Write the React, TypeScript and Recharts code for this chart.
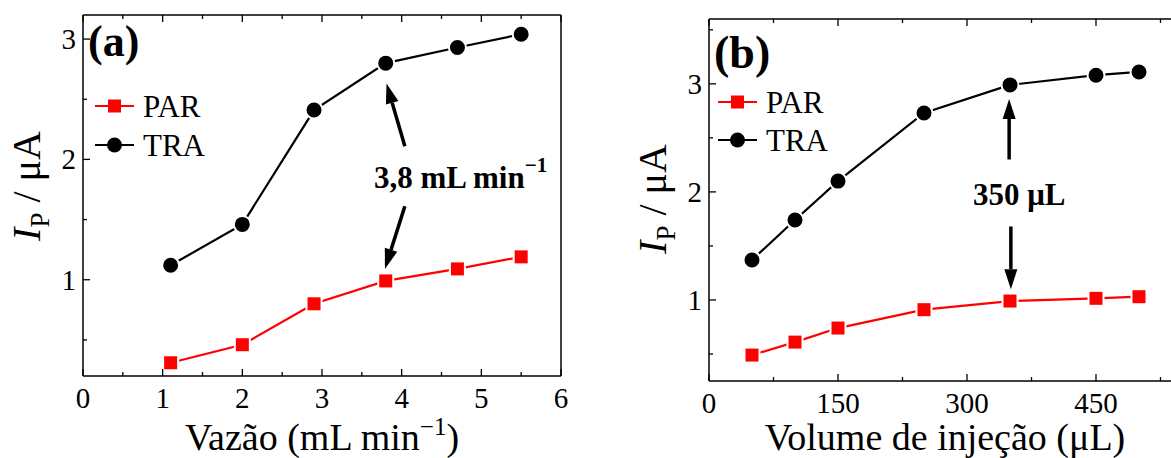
import React from "react";
import { LineChart, Line, XAxis, YAxis, ReferenceLine, Legend } from "recharts";

// (a) flow rate study
const flowRates = [1.1, 2.0, 2.9, 3.8, 4.7, 5.5];
const flowPar = [0.31, 0.46, 0.8, 0.99, 1.09, 1.19];
const flowTra = [1.12, 1.46, 2.41, 2.8, 2.93, 3.04];

// (b) injection volume study
const volumes = [50, 100, 150, 250, 350, 450, 500];
const volPar = [0.49, 0.61, 0.74, 0.91, 0.99, 1.015, 1.03];
const volTra = [1.37, 1.74, 2.1, 2.73, 2.99, 3.08, 3.11];

const flowMajorX = [0, 1, 2, 3, 4, 5, 6];
const flowMinorX = [0.5, 1.5, 2.5, 3.5, 4.5, 5.5];
const flowMajorY = [1, 2, 3];
const flowMinorY = [0.5, 1.5, 2.5];
const volMajorX = [0, 150, 300, 450];
const volMinorX = [75, 225, 375, 525];
const volMajorY = [1, 2, 3];
const volMinorY = [0.5, 1.5, 2.5, 3.5];

const seriesNames = ["PAR", "TRA"];
const seriesColors = ["#ff0000", "#000000"];

const FONT = "Liberation Serif, Times New Roman, serif";

const flowData = flowRates.map((x, i) => ({ x, par: flowPar[i], tra: flowTra[i] }));
const volData = volumes.map((x, i) => ({ x, par: volPar[i], tra: volTra[i] }));

type Side = "bottom" | "top" | "left" | "right";

function makeTick(side: Side, major: number[], showLabel: boolean) {
  return (props: any) => {
    const { x, y, payload } = props;
    const v = payload.value;
    const isMajor = major.includes(v);
    const len = isMajor ? 7 : 4;
    let x2 = x;
    let y2 = y;
    if (side === "bottom") y2 = y - len;
    if (side === "top") y2 = y + len;
    if (side === "left") x2 = x + len;
    if (side === "right") x2 = x - len;
    let label = null;
    if (showLabel && isMajor) {
      if (side === "bottom") {
        label = (
          <text x={x} y={y + 32} textAnchor="middle" fontSize={29} fontFamily={FONT} fill="#000">
            {v}
          </text>
        );
      } else if (side === "left") {
        label = (
          <text x={x - 7} y={y + 10} textAnchor="end" fontSize={29} fontFamily={FONT} fill="#000">
            {v}
          </text>
        );
      }
    }
    return (
      <g>
        <line x1={x} y1={y} x2={x2} y2={y2} stroke="#000" strokeWidth={1.3} />
        {label}
      </g>
    );
  };
}

const SquareDot = (props: any) => {
  const { cx, cy, key } = props;
  if (cx == null || cy == null) return null;
  return <rect key={key} x={cx - 7.5} y={cy - 7.5} width={15} height={15} fill="#ff0000" stroke="#fff" strokeWidth={2} />;
};

const CircleDot = (props: any) => {
  const { cx, cy, key } = props;
  if (cx == null || cy == null) return null;
  return <circle key={key} cx={cx} cy={cy} r={8.5} fill="#000" stroke="#fff" strokeWidth={2} />;
};

const Arrow = (props: any) => {
  const { x1, y1, x2, y2 } = props;
  const dx = x2 - x1;
  const dy = y2 - y1;
  const d = Math.sqrt(dx * dx + dy * dy) || 1;
  const ux = dx / d;
  const uy = dy / d;
  const headL = 20;
  const headW = 6.5;
  const bx = x2 - ux * headL;
  const by = y2 - uy * headL;
  const pts = `${x2},${y2} ${bx - uy * headW},${by + ux * headW} ${bx + uy * headW},${by - ux * headW}`;
  return (
    <g>
      <line x1={x1} y1={y1} x2={bx} y2={by} stroke="#000" strokeWidth={3.5} />
      <polygon points={pts} fill="#000" />
    </g>
  );
};

function LegendBox(props: { gap: number }) {
  return (
    <svg width={130} height={props.gap + 30} style={{ overflow: "visible", display: "block" }}>
      {seriesNames.map((name, i) => {
        const cy = 15 + i * props.gap;
        return (
          <g key={name}>
            <line x1={0} y1={cy} x2={39} y2={cy} stroke={seriesColors[i]} strokeWidth={2.2} />
            {i === 0 ? (
              <rect x={13} y={cy - 6.5} width={13} height={13} fill={seriesColors[i]} />
            ) : (
              <circle cx={19.5} cy={cy} r={7.5} fill={seriesColors[i]} />
            )}
            <text x={48} y={cy + 11} fontSize={31} fontFamily={FONT} fill="#000">
              {name}
            </text>
          </g>
        );
      })}
    </svg>
  );
}

function Panel(props: {
  data: { x: number; par: number; tra: number }[];
  width: number;
  margin: { top: number; left: number; right: number; bottom: number };
  xDomain: [number, number];
  yDomain: [number, number];
  majorX: number[];
  minorX: number[];
  majorY: number[];
  minorY: number[];
  legendPos: { left: number; top: number };
  legendGap: number;
  arrows: { x: number; y: number }[][];
}) {
  const xt = [...props.majorX, ...props.minorX].sort((a, b) => a - b);
  const yt = [...props.majorY, ...props.minorY].sort((a, b) => a - b);
  const common = { tickSize: 0, tickMargin: 0, interval: 0 as const, axisLine: { stroke: "#000", strokeWidth: 1.5 }, tickLine: false };
  return (
    <LineChart width={props.width} height={458} data={props.data} margin={props.margin}>
      <XAxis xAxisId="b" dataKey="x" type="number" domain={props.xDomain} ticks={xt} height={1} orientation="bottom" tick={makeTick("bottom", props.majorX, true)} {...common} />
      <XAxis xAxisId="t" dataKey="x" type="number" domain={props.xDomain} ticks={xt} height={1} orientation="top" tick={makeTick("top", props.majorX, false)} {...common} />
      <YAxis yAxisId="l" type="number" domain={props.yDomain} ticks={yt} width={1} orientation="left" tick={makeTick("left", props.majorY, true)} {...common} />
      <YAxis yAxisId="r" type="number" domain={props.yDomain} ticks={yt} width={1} orientation="right" tick={makeTick("right", props.majorY, false)} {...common} />
      <Legend
        layout="vertical"
        align="center"
        verticalAlign="middle"
        content={() => <LegendBox gap={props.legendGap} />}
        wrapperStyle={{ position: "absolute", left: props.legendPos.left, top: props.legendPos.top, width: 130 }}
      />
      {props.arrows.map((seg, i) => (
        <ReferenceLine key={i} xAxisId="b" yAxisId="l" segment={seg} shape={Arrow} ifOverflow="visible" />
      ))}
      <Line xAxisId="b" yAxisId="l" type="linear" dataKey="par" name="PAR" stroke="#ff0000" strokeWidth={2.2} dot={SquareDot} isAnimationActive={false} />
      <Line xAxisId="b" yAxisId="l" type="linear" dataKey="tra" name="TRA" stroke="#000" strokeWidth={2.2} dot={CircleDot} isAnimationActive={false} />
    </LineChart>
  );
}

export default function App() {
  return (
    <div style={{ position: "fixed", left: 0, top: 0, width: 1171, height: 458, overflow: "hidden", background: "#fff" }}>
      <div style={{ position: "absolute", left: 0, top: 0 }}>
        <Panel
          data={flowData}
          width={600}
          margin={{ top: 14, left: 82, right: 38, bottom: 81 }}
          xDomain={[0, 6]}
          yDomain={[0.2, 3.2]}
          majorX={flowMajorX}
          minorX={flowMinorX}
          majorY={flowMajorY}
          minorY={flowMinorY}
          legendPos={{ left: 95, top: 91 }}
          legendGap={39}
          arrows={[
            [{ x: 4.04, y: 2.11 }, { x: 3.81, y: 2.63 }],
            [{ x: 4.04, y: 1.61 }, { x: 3.79, y: 1.09 }],
          ]}
        />
      </div>
      <div style={{ position: "absolute", left: 620, top: 0 }}>
        <Panel
          data={volData}
          width={570}
          margin={{ top: 18, left: 88, right: 7, bottom: 76 }}
          xDomain={[0, 550]}
          yDomain={[0.25, 3.6]}
          majorX={volMajorX}
          minorX={volMinorX}
          majorY={volMajorY}
          minorY={volMinorY}
          legendPos={{ left: 98, top: 87 }}
          legendGap={38}
          arrows={[
            [{ x: 349, y: 2.3 }, { x: 349, y: 2.86 }],
            [{ x: 351, y: 1.68 }, { x: 351, y: 1.1 }],
          ]}
        />
      </div>
      <svg width={1171} height={458} style={{ position: "absolute", left: 0, top: 0, pointerEvents: "none" }} fontFamily={FONT}>
        <text x={88} y={56} fontSize={44} fontWeight="bold">(a)</text>
        <text x={714} y={68} fontSize={46} fontWeight="bold">(b)</text>
        <text x={374} y={188} fontSize={31} fontWeight="bold">
          3,8 mL min<tspan fontSize={21} dy={-16}>−1</tspan>
        </text>
        <text x={973} y={205} fontSize={31} fontWeight="bold">350 μL</text>
        <text x={322} y={450} fontSize={38} textAnchor="middle">
          Vazão (mL min<tspan fontSize={25} dy={-15}>−1</tspan><tspan dy={15}>)</tspan>
        </text>
        <text x={945} y={450} fontSize={38} textAnchor="middle">Volume de injeção (μL)</text>
        <text transform="translate(40,186) rotate(-90)" fontSize={40} textAnchor="middle">
          <tspan fontStyle="italic">I</tspan><tspan fontSize={27} dy={9}>P</tspan><tspan dy={-9}> / μA</tspan>
        </text>
        <text transform="translate(666,199) rotate(-90)" fontSize={40} textAnchor="middle">
          <tspan fontStyle="italic">I</tspan><tspan fontSize={27} dy={9}>P</tspan><tspan dy={-9}> / μA</tspan>
        </text>
      </svg>
    </div>
  );
}
